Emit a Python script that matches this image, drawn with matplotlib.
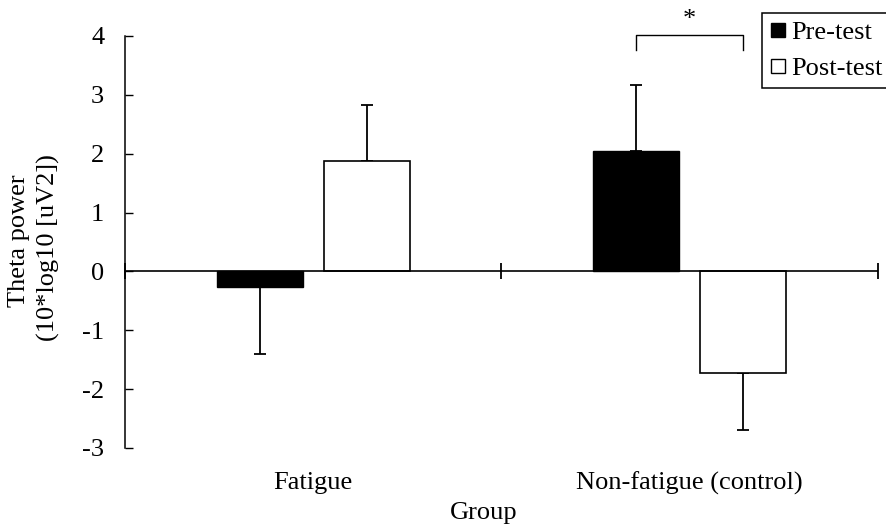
import numpy as np
import matplotlib
matplotlib.use("Agg")
import matplotlib.pyplot as plt
from matplotlib.lines import Line2D

# ─────────────────────────────────────────────
# DATOS
# ─────────────────────────────────────────────
groups    = ["Fatigue", "Non-fatigue (control)"]
pre_vals  = [-0.27, 2.05]
pre_err   = [1.14, 1.12]
post_vals = [1.87, -1.73]
post_err  = [0.95, 0.97]
yticks    = [-3, -2, -1, 0, 1, 2, 3, 4]

plt.rcParams["font.family"] = ["Liberation Serif", "DejaVu Serif"]

W, H = 887, 524
fig = plt.figure(figsize=(W / 100, H / 100), dpi=100)
ax = fig.add_axes([125 / W, (H - 448) / H, (878 - 125) / W, (448 - 36) / H])

x = np.arange(len(groups))
bw, off = 0.228, 0.142


def one_sided(vals, errs):
    # solo la mitad que se aleja del cero
    vals, errs = np.array(vals), np.array(errs)
    return [np.where(vals < 0, errs, 0), np.where(vals >= 0, errs, 0)]


ax.bar(x - off, pre_vals, bw, color="black", edgecolor="black", lw=1, zorder=3)
ax.bar(x + off, post_vals, bw, color="white", edgecolor="black", lw=1.2, zorder=3)
ek = dict(fmt="none", ecolor="black", elinewidth=1.3, capsize=4.5, capthick=1.3, zorder=2)
ax.errorbar(x - off, pre_vals, yerr=one_sided(pre_vals, pre_err), **ek)
ax.errorbar(x + off, post_vals, yerr=one_sided(post_vals, post_err), **ek)

# eje cero con marcas
ax.axhline(0, color="black", lw=1.2, zorder=4)
ax.plot([-0.5, 0.5, 1.5], [0, 0, 0], ls="none", marker="|", ms=11, mew=1.3,
        color="black", clip_on=False, zorder=5)

ax.set_xlim(-0.5, 1.5)
ax.set_ylim(-3, 4)
ax.set_yticks(yticks)
ax.set_yticklabels([str(t) for t in yticks])
ax.tick_params(axis="y", direction="in", length=6, width=1, pad=15, labelsize=19)
ax.set_xticks(x)
ax.set_xticklabels(groups)
ax.tick_params(axis="x", length=0, pad=17, labelsize=19)
for s in ["top", "right", "bottom"]:
    ax.spines[s].set_visible(False)
ax.spines["left"].set_linewidth(1.1)

ax.set_xlabel("Group", fontsize=19)
ax.xaxis.set_label_coords(0.477, -0.13)

fig.text(19 / W, 1 - 240.5 / H, "Theta power", rotation=90,
         ha="center", va="center", fontsize=19)
fig.text(48 / W, 1 - 247.5 / H, "(10*log10 [uV2])", rotation=90,
         ha="center", va="center", fontsize=19)

# corchete de significancia
ax.plot([x[1] - off, x[1] - off, x[1] + off, x[1] + off], [3.76, 4.02, 4.02, 3.76],
        color="black", lw=1, clip_on=False)
ax.text(x[1], 4.17, "*", ha="center", va="baseline", fontsize=19)

handles = [
    Line2D([], [], ls="none", marker="s", ms=10, mfc="black", mec="black"),
    Line2D([], [], ls="none", marker="s", ms=10, mfc="white", mec="black", mew=1),
]
leg = ax.legend(handles, ["Pre-test", "Post-test"], loc="upper left",
                bbox_to_anchor=(762 / W, 1 - 13 / H), bbox_transform=fig.transFigure,
                borderaxespad=0, borderpad=0.3, handlelength=0.65, handletextpad=0.15,
                labelspacing=0.45, fontsize=19, fancybox=False, framealpha=1)
leg.get_frame().set_edgecolor("black")
leg.get_frame().set_linewidth(1.1)

fig.savefig("out.png", dpi=100)
